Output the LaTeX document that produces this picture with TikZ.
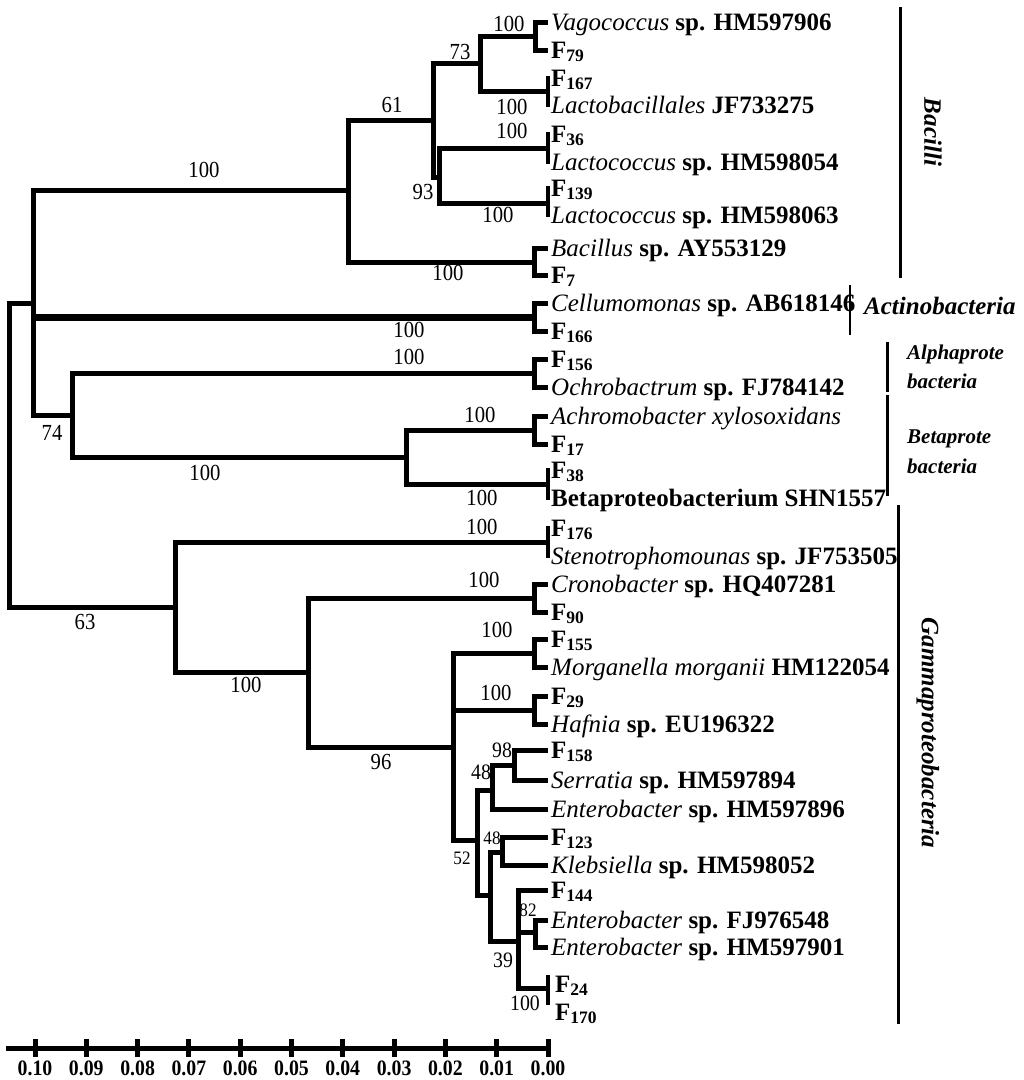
\documentclass[tikz,border=0pt]{standalone}
\usepackage{fontspec}
\setmainfont{Liberation Serif}
\newfontfamily\numfont[FakeStretch=0.9]{Liberation Serif}
\newcommand\Fsub[1]{\textbf{F\textsubscript{#1}}}
\begin{document}
\begin{tikzpicture}[x=1pt,y=-1pt,
  br/.style={line width=5pt},
  brk/.style={line width=7pt},
  pairtick/.style={line width=4.5pt, shorten <=-2pt, shorten >=-2pt},
  leaf/.style={anchor=base west, inner sep=0pt, font=\fontsize{25}{27}\selectfont},
  bs/.style={inner sep=0pt, font=\fontsize{23}{25}\numfont},
  bsn/.style={inner sep=0pt, font=\fontsize{22}{24}\numfont},
  bsm/.style={inner sep=0pt, font=\fontsize{19}{21}\numfont},
  cbar/.style={line width=3pt},
  clade/.style={inner sep=0pt, font=\fontsize{25}{27}\selectfont\bfseries\itshape},
  subclade/.style={anchor=base west, inner sep=0pt, font=\fontsize{21}{23}\selectfont\bfseries\itshape},
  scaletick/.style={line width=5pt},
  scl/.style={inner sep=0pt, font=\fontsize{22}{24}\numfont\bfseries},
]
\useasboundingbox (0,0) rectangle (1024,1080);

% ---------- leaves ----------
\foreach \i/\y/\t in {
 1/22/{\textit{Vagococcus} \textbf{sp. HM597906}},
 2/50/{\Fsub{79}},
 3/78/{\Fsub{167}},
 4/105/{\textit{Lactobacillales} \textbf{JF733275}},
 5/134/{\Fsub{36}},
 6/162/{\textit{Lactococcus} \textbf{sp. HM598054}},
 7/188/{\Fsub{139}},
 8/215/{\textit{Lactococcus} \textbf{sp. HM598063}},
 9/248/{\textit{Bacillus} \textbf{sp. AY553129}},
 10/275/{\Fsub{7}},
 11/303/{\textit{Cellumomonas} \textbf{sp. AB618146}},
 12/331/{\Fsub{166}},
 13/359/{\Fsub{156}},
 14/387/{\textit{Ochrobactrum} \textbf{sp. FJ784142}},
 15/416/{\textit{Achromobacter xylosoxidans}},
 16/444/{\Fsub{17}},
 17/470/{\Fsub{38}},
 18/498/{\textbf{Betaproteobacterium SHN1557}},
 19/528/{\Fsub{176}},
 20/556/{\textit{Stenotrophomounas} \textbf{sp. JF753505}},
 21/584/{\textit{Cronobacter} \textbf{sp. HQ407281}},
 22/612/{\Fsub{90}},
 23/639/{\Fsub{155}},
 24/667/{\textit{Morganella morganii} \textbf{HM122054}},
 25/696/{\Fsub{29}},
 26/724/{\textit{Hafnia} \textbf{sp. EU196322}},
 27/750/{\Fsub{158}},
 28/780/{\textit{Serratia} \textbf{sp. HM597894}},
 29/809/{\textit{Enterobacter} \textbf{sp. HM597896}},
 30/837/{\Fsub{123}},
 31/865/{\textit{Klebsiella} \textbf{sp. HM598052}},
 32/890/{\Fsub{144}},
 33/920/{\textit{Enterobacter} \textbf{sp. FJ976548}},
 34/947/{\textit{Enterobacter} \textbf{sp. HM597901}}}
{
  \coordinate (t\i) at (548,\y);
  \node[leaf] (L\i) at (551,\y+8) {\t};
}
\coordinate (t35) at (548,977);
\coordinate (t36) at (548,1003);
\node[leaf] (L35) at (555,992) {\Fsub{24}};
\node[leaf] (L36) at (555,1020) {\Fsub{170}};

% ---------- internal nodes ----------
\coordinate (root) at (9,455);
\coordinate (nA) at (33,303);
\coordinate (nB) at (348,190);
\coordinate (nC) at (433,120);
\coordinate (nD) at (480,63);
\coordinate (nVag) at (535,36);
\coordinate (pLac) at (548,91);
\coordinate (n93) at (439,177);
\coordinate (p36) at (548,148);
\coordinate (p139) at (548,203);
\coordinate (nBac) at (534,262);
\coordinate (nCell) at (534,317);
\coordinate (n74) at (72,415);
\coordinate (nAlp) at (534,373);
\coordinate (nE) at (406,457);
\coordinate (nAch) at (534,430);
\coordinate (p38) at (548,484);
\coordinate (nF) at (175,607);
\coordinate (p176) at (548,542);
\coordinate (nG) at (308,672);
\coordinate (nCro) at (534,598);
\coordinate (nH) at (453,747);
\coordinate (nMor) at (534,653);
\coordinate (nHaf) at (534,710);
\coordinate (nI) at (477,840);
\coordinate (nJ) at (492,790);
\coordinate (nK) at (514,765);
\coordinate (nL) at (490,895);
\coordinate (nM) at (502,852);
\coordinate (nN) at (518,941);
\coordinate (nO) at (535,932);
\coordinate (p24) at (548,988);

% ---------- branches ----------
\draw[br] (root) |- (nA);   \draw[br] (root) |- (nF);
\draw[br] (nA) |- (nB);     \draw[br] (nA) |- (n74);
\draw[brk] (nA |- nCell) -- (nCell);
\draw[br] (nB) |- (nC);     \draw[br] (nB) |- (nBac);
\draw[br] (nC) |- (nD);     \draw[br] (nC) |- (n93);
\draw[br] (nD) |- (nVag);   \draw[br] (nD) |- (pLac);
\draw[br] (nVag) |- (t1);   \draw[br] (nVag) |- (t2);
\draw[br] (n93) |- (p36);   \draw[br] (n93) |- (p139);
\draw[br] (nBac) |- (t9);   \draw[br] (nBac) |- (t10);
\draw[br] (nCell) |- (t11); \draw[br] (nCell) |- (t12);
\draw[br] (n74) |- (nAlp);  \draw[br] (n74) |- (nE);
\draw[br] (nAlp) |- (t13);  \draw[br] (nAlp) |- (t14);
\draw[br] (nE) |- (nAch);   \draw[br] (nE) |- (p38);
\draw[br] (nAch) |- (t15);  \draw[br] (nAch) |- (t16);
\draw[br] (nF) |- (p176);   \draw[br] (nF) |- (nG);
\draw[br] (nG) |- (nCro);   \draw[br] (nG) |- (nH);
\draw[br] (nCro) |- (t21);  \draw[br] (nCro) |- (t22);
\draw[br] (nH) |- (nMor);   \draw[br] (nH |- nHaf) -- (nHaf);  \draw[br] (nH) |- (nI);
\draw[br] (nMor) |- (t23);  \draw[br] (nMor) |- (t24);
\draw[br] (nHaf) |- (t25);  \draw[br] (nHaf) |- (t26);
\draw[br] (nI) |- (nJ);     \draw[br] (nI) |- (nL);
\draw[br] (nJ) |- (nK);     \draw[br] (nJ) |- (t29);
\draw[br] (nK) |- (t27);    \draw[br] (nK) |- (t28);
\draw[br] (nL) |- (nM);     \draw[br] (nL) |- (nN);
\draw[br] (nM) |- (t30);    \draw[br] (nM) |- (t31);
\draw[br] (nN) |- (t32);    \draw[br] (nN |- nO) -- (nO);  \draw[br] (nN) |- (p24);
\draw[br] (nO) |- (t33);    \draw[br] (nO) |- (t34);
% zero-length pairs
\draw[pairtick] (t3) -- (t4);
\draw[pairtick] (t5) -- (t6);
\draw[pairtick] (t7) -- (t8);
\draw[pairtick] (t17) -- (t18);
\draw[pairtick] (t19) -- (t20);
\draw[pairtick] (t35) -- (t36);

% ---------- bootstrap values ----------
\node[bs] (b1) at (204,170) {100};
\node[bs] (b2) at (392,105) {61};
\node[bs] (b3) at (460,52) {73};
\node[bs] (b4) at (509,24) {100};
\node[bs] (b5) at (512,107) {100};
\node[bs] (b6) at (512,131) {100};
\node[bs] (b7) at (423,192) {93};
\node[bs] (b8) at (498,215) {100};
\node[bs] (b9) at (448,273) {100};
\node[bs] (b10) at (409,330) {100};
\node[bs] (b11) at (409,357) {100};
\node[bs] (b12) at (52,433) {74};
\node[bs] (b13) at (205,473) {100};
\node[bs] (b14) at (480,415) {100};
\node[bs] (b15) at (482,498) {100};
\node[bs] (b16) at (482,527) {100};
\node[bs] (b17) at (85,622) {63};
\node[bs] (b18) at (246,685) {100};
\node[bs] (b19) at (484,580) {100};
\node[bs] (b20) at (381,762) {96};
\node[bs] (b21) at (497,630) {100};
\node[bs] (b22) at (496,693) {100};
\node[bsn] (b23) at (502,750) {98};
\node[bsn] (b24) at (481,772) {48};
\node[bsm] (b25) at (462,858) {52};
\node[bsm] (b26) at (492,838) {48};
\node[bsm] (b27) at (528,910) {82};
\node[bsn] (b28) at (503,960) {39};
\node[bsn] (b29) at (525,1003) {100};

% ---------- clade bars and names ----------
\coordinate (baT) at (900,7);   \coordinate (baB) at (900,278);
\coordinate (acT) at (850,285); \coordinate (acB) at (850,335);
\coordinate (alT) at (887,342); \coordinate (alB) at (887,392);
\coordinate (beT) at (887,395); \coordinate (beB) at (887,496);
\coordinate (gaT) at (898,505); \coordinate (gaB) at (898,1024);
\draw[cbar] (baT) -- (baB);
\draw[line width=2.5pt] (acT) -- (acB);
\draw[cbar] (alT) -- (alB);
\draw[cbar] (beT) -- (beB);
\draw[cbar] (gaT) -- (gaB);
\node[clade, rotate=-90] (cBac) at (933,132) {Bacilli};
\node[clade, anchor=base west] (cAct) at (864,314) {Actinobacteria};
\node[subclade] (cAl1) at (907,359) {Alphaprote};
\node[subclade] (cAl2) at (907,388) {bacteria};
\node[subclade] (cBe1) at (907,443) {Betaprote};
\node[subclade] (cBe2) at (907,473) {bacteria};
\node[clade, rotate=-90] (cGam) at (928,733) {Gammaproteobacteria};

% ---------- scale bar ----------
\coordinate (sL) at (6,1048);
\foreach \k in {0,...,10}{
  \coordinate (s\k) at (548-51.3*\k,1048);
}
\draw[br] (sL) -- (s0);
\foreach \k/\lab in {0/0.00,1/0.01,2/0.02,3/0.03,4/0.04,5/0.05,6/0.06,7/0.07,8/0.08,9/0.09,10/0.10}{
  \draw[scaletick] ([yshift=9pt]s\k) -- ([yshift=-9pt]s\k);
  \node[scl] (sl\k) at ([yshift=-20pt]s\k) {\lab};
}
\end{tikzpicture}
\end{document}
